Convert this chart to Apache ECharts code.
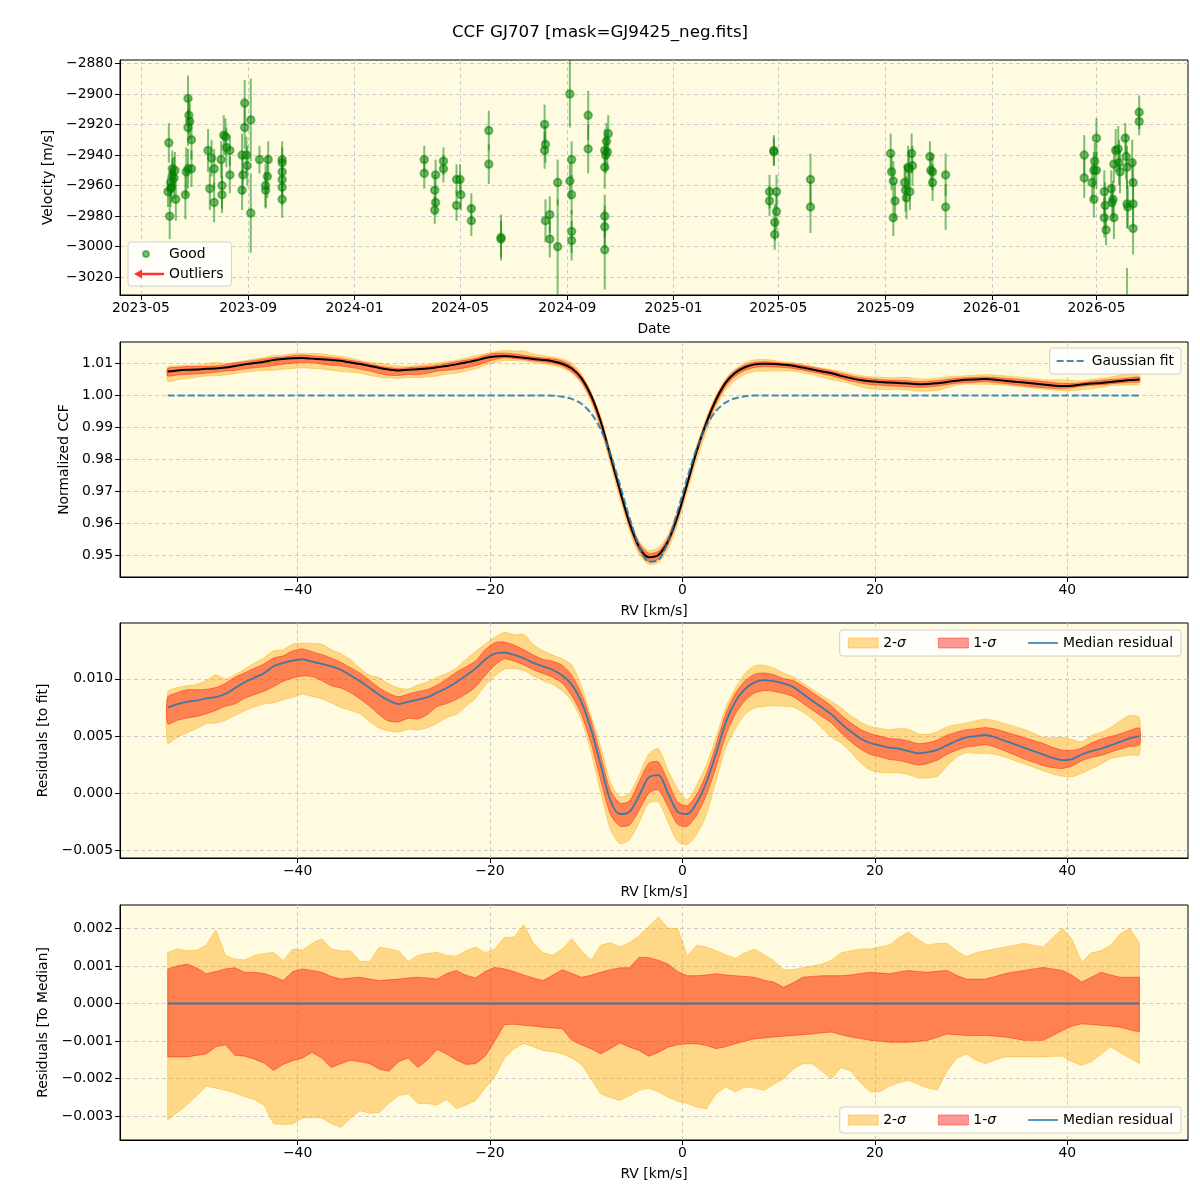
<!DOCTYPE html>
<html>
<head>
<meta charset="utf-8">
<title>CCF GJ707</title>
<script src="https://cdn.jsdelivr.net/npm/echarts@6/dist/echarts.min.js"></script>
<style>html,body{margin:0;background:#fff;}</style>
</head>
<body>
<div id="main" style="width:1200px;height:1200px;"></div>
<script type="text/javascript">
// ---- panel 1: RV time series ----
var obsDate = ['2023-06-02','2023-06-03','2023-06-01','2023-06-04','2023-06-06','2023-06-06','2023-06-08','2023-06-09','2023-06-10','2023-06-04','2023-06-05',
  '2023-06-24','2023-06-25','2023-06-24','2023-06-26','2023-06-28','2023-06-21','2023-06-22','2023-06-24','2023-06-28',
  '2023-07-17','2023-07-19','2023-07-21','2023-07-24','2023-07-24','2023-08-01','2023-08-02','2023-08-02','2023-08-04','2023-08-06','2023-08-07','2023-08-11','2023-08-11',
  '2023-08-28','2023-08-28','2023-08-25','2023-08-26','2023-08-25','2023-08-30','2023-08-31','2023-09-04','2023-09-04',
  '2023-09-14','2023-09-21','2023-09-21','2023-09-23','2023-09-24',
  '2023-10-10','2023-10-10','2023-10-10','2023-10-10','2023-10-10','2023-10-10',
  '2024-03-21','2024-03-21','2024-04-03','2024-04-02','2024-04-03','2024-04-02','2024-04-12','2024-04-12',
  '2024-04-27','2024-05-01','2024-05-02','2024-04-27','2024-05-14','2024-05-14','2024-06-03','2024-06-03','2024-06-17','2024-06-17',
  '2024-08-06','2024-08-07','2024-08-06','2024-08-07','2024-08-12','2024-08-12','2024-08-21','2024-08-21',
  '2024-09-04','2024-09-06','2024-09-04','2024-09-06','2024-09-06','2024-09-06','2024-09-25','2024-09-25',
  '2024-10-18','2024-10-16','2024-10-14','2024-10-17','2024-10-15','2024-10-14','2024-10-14','2024-10-14','2024-10-14',
  '2025-04-26','2025-04-26','2025-04-21','2025-04-21','2025-04-29','2025-04-29','2025-04-27','2025-04-27','2025-06-07','2025-06-07',
  '2025-09-07','2025-09-08','2025-09-10','2025-09-12','2025-09-10','2025-09-23','2025-09-24','2025-09-25','2025-09-27','2025-09-29','2025-10-01','2025-10-02','2025-09-28',
  '2025-10-22','2025-10-23','2025-10-25','2025-10-25','2025-11-09','2025-11-09',
  '2026-04-17','2026-04-17','2026-04-26','2026-04-28','2026-04-29','2026-05-01','2026-05-01','2026-04-28',
  '2026-05-10','2026-05-11','2026-05-10','2026-05-12','2026-05-18','2026-05-19','2026-05-20','2026-05-21','2026-05-21',
  '2026-05-23','2026-05-26','2026-05-27','2026-05-28','2026-06-03','2026-06-04','2026-06-05','2026-06-05','2026-06-06',
  '2026-06-11','2026-06-12','2026-06-12','2026-06-12','2026-06-19','2026-06-19','2026-06-05'];
var obsVel = [-2932,-2980,-2964,-2962,-2949,-2953,-2955,-2950,-2969,-2958,-2961,
  -2903,-2914,-2922,-2918,-2930,-2966,-2951,-2949,-2949,
  -2937,-2962,-2942,-2949,-2971,-2943,-2960,-2966,-2927,-2928,-2935,-2937,-2953,
  -2906,-2922,-2940,-2953,-2963,-2940,-2947,-2917,-2978,
  -2943,-2960,-2963,-2954,-2943,
  -2943,-2945,-2951,-2956,-2961,-2969,
  -2943,-2952,-2953,-2963,-2971,-2976,-2944,-2949,
  -2956,-2956,-2966,-2973,-2975,-2983,-2924,-2946,-2994,-2995,
  -2920,-2933,-2937,-2983,-2979,-2995,-2958,-3000,
  -2900,-2943,-2957,-2966,-2990,-2996,-2914,-2936,
  -2926,-2931,-2937,-2938,-2940,-2948,-2980,-2987,-3002,
  -2937,-2938,-2964,-2970,-2964,-2977,-2984,-2992,-2956,-2974,
  -2939,-2951,-2957,-2970,-2981,-2958,-2963,-2968,-2948,-2964,-2939,-2947,-2949,
  -2941,-2950,-2951,-2958,-2953,-2974,
  -2940,-2955,-2958,-2969,-2944,-2929,-2950,-2950,
  -2964,-2973,-2981,-2989,-2962,-2971,-2969,-2981,-2946,
  -2937,-2936,-2945,-2951,-2929,-2941,-2948,-2972,-2974,
  -2945,-2958,-2972,-2988,-2912,-2918,-3036];
var obsErr = [13,15,10,12,12,11,14,12,14,10,10,
  15,12,12,12,13,16,16,13,12,
  14,14,12,13,13,12,15,12,13,12,13,10,12,
  15,14,14,13,13,12,13,27,26,
  9,14,12,14,12,
  12,10,10,10,12,12,
  9,10,10,10,8,9,9,9,
  10,10,10,10,10,10,13,13,15,12,
  13,12,12,14,12,12,15,31,
  22,12,12,13,14,13,16,16,
  12,12,14,12,12,14,14,14,26,
  10,9,11,10,11,12,12,10,17,17,
  13,12,13,12,12,12,14,14,14,12,13,13,12,
  10,11,12,12,14,15,
  13,13,12,12,12,13,12,12,
  14,15,13,10,12,12,12,14,12,
  14,15,15,14,10,15,14,16,14,
  15,14,16,17,11,9,22];

// ---- panels 2-4: CCF profile, residuals ----
var rv = [-53.5,-52.5,-51.5,-50.5,-49.5,-48.5,-47.5,-46.5,-45.5,-44.5,
  -43.5,-42.5,-41.5,-40.5,-39.5,-38.5,-37.5,-36.5,-35.5,-34.5,
  -33.5,-32.5,-31.5,-30.5,-29.5,-28.5,-27.5,-26.5,-25.5,-24.5,
  -23.5,-22.5,-21.5,-20.5,-19.5,-18.5,-17.5,-16.5,-15.5,-14.5,
  -13.5,-12.5,-11.5,-10.5,-9.5,-8.5,-7.5,-6.5,-5.5,-4.5,
  -3.5,-2.5,-1.5,-0.5,0.5,1.5,2.5,3.5,4.5,5.5,
  6.5,7.5,8.5,9.5,10.5,11.5,12.5,13.5,14.5,15.5,
  16.5,17.5,18.5,19.5,20.5,21.5,22.5,23.5,24.5,25.5,
  26.5,27.5,28.5,29.5,30.5,31.5,32.5,33.5,34.5,35.5,
  36.5,37.5,38.5,39.5,40.5,41.5,42.5,43.5,44.5,45.5,
  46.5,47.5];
var gaussFit = [1,1,1,1,1,1,1,1,1,1,
  1,1,1,1,1,1,1,1,1,1,
  1,1,1,1,1,1,1,1,1,1,
  1,1,1,1,1,1,1,1,1,1,
  0.9999,0.9996,0.9989,0.9974,0.9944,0.9894,0.9818,0.9721,0.9617,0.9528,
  0.9480,0.9485,0.9544,0.9638,0.9742,0.9836,0.9906,0.9952,0.9978,0.9991,
  0.9997,1,1,1,1,1,1,1,1,1,
  1,1,1,1,1,1,1,1,1,1,
  1,1,1,1,1,1,1,1,1,1,
  1,1,1,1,1,1,1,1,1,1,
  1,1];
var medRes = [0.0075,0.0078,0.0080,0.0081,0.0083,0.0084,0.0087,0.0092,0.0097,0.0101,
  0.0105,0.0111,0.0114,0.0116,0.0117,0.0115,0.0113,0.0111,0.0108,0.0103,
  0.0098,0.0092,0.0086,0.0081,0.0078,0.0080,0.0082,0.0084,0.0088,0.0092,
  0.0097,0.0103,0.0109,0.0117,0.0122,0.0123,0.0121,0.0118,0.0114,0.0111,
  0.0108,0.0103,0.0095,0.0080,0.0056,0.0025,-0.0006,-0.0018,-0.0016,-0.0002,
  0.0014,0.0016,0.0000,-0.0016,-0.0018,-0.0008,0.0010,0.0035,0.0062,0.0080,
  0.0091,0.0097,0.0099,0.0098,0.0096,0.0093,0.0087,0.0081,0.0075,0.0069,
  0.0061,0.0054,0.0048,0.0044,0.0042,0.0040,0.0039,0.0037,0.0035,0.0036,
  0.0038,0.0042,0.0046,0.0049,0.0050,0.0051,0.0049,0.0046,0.0043,0.0040,
  0.0037,0.0034,0.0031,0.0029,0.0030,0.0034,0.0037,0.0039,0.0042,0.0045,
  0.0048,0.0050];
// offsets to the median, in units of 1e-3
var hi2 = [1.36,1.45,1.40,1.42,1.55,1.96,1.28,1.18,1.16,1.28,
  1.33,1.36,1.14,1.45,1.42,1.60,1.72,1.45,1.40,1.40,
  1.12,1.12,1.50,1.45,1.40,1.12,1.28,1.33,1.36,1.28,
  1.26,1.40,1.50,1.35,1.45,1.76,1.76,2.10,1.60,1.35,
  1.28,1.45,1.72,1.40,1.15,1.55,1.62,1.50,1.62,1.80,
  2.05,2.30,2.00,2.00,1.27,1.55,1.50,1.40,1.30,1.20,
  1.35,1.45,1.30,1.14,0.90,0.90,0.95,1.00,1.05,1.15,
  1.35,1.40,1.45,1.45,1.50,1.55,1.75,1.90,1.70,1.55,
  1.60,1.60,1.40,1.25,1.35,1.40,1.45,1.50,1.55,1.60,
  1.55,1.50,1.75,2.00,1.70,1.10,1.35,1.40,1.55,1.85,
  2.00,1.60];
var hi1 = [0.92,1.00,1.05,0.95,0.79,0.85,0.92,0.95,0.83,0.83,
  0.80,0.72,0.61,0.85,0.92,0.88,0.83,0.72,0.65,0.68,
  0.70,0.65,0.61,0.63,0.65,0.68,0.70,0.68,0.65,0.80,
  0.88,0.75,0.68,0.85,0.96,0.92,0.85,0.76,0.68,0.61,
  0.75,0.90,0.80,0.70,0.75,0.83,0.90,0.95,0.95,1.23,
  1.22,1.15,1.05,0.85,0.74,0.74,0.76,0.79,0.76,0.74,
  0.72,0.70,0.62,0.57,0.43,0.55,0.70,0.72,0.74,0.74,
  0.74,0.76,0.80,0.83,0.81,0.79,0.84,0.88,0.85,0.83,
  0.86,0.88,0.75,0.65,0.65,0.65,0.72,0.79,0.84,0.88,
  0.92,0.96,0.92,0.88,0.75,0.57,0.70,0.83,0.76,0.70,
  0.70,0.70];
var lo1 = [-1.42,-1.42,-1.42,-1.38,-1.34,-1.15,-1.10,-1.38,-1.40,-1.48,
  -1.58,-1.78,-1.62,-1.52,-1.45,-1.30,-1.45,-1.70,-1.60,-1.51,
  -1.55,-1.60,-1.75,-1.80,-1.55,-1.45,-1.70,-1.50,-1.22,-1.35,
  -1.50,-1.62,-1.60,-1.40,-1.00,-0.56,-0.55,-0.58,-0.60,-0.63,
  -0.65,-0.67,-0.98,-1.10,-1.20,-1.34,-1.20,-1.05,-1.16,-1.25,
  -1.40,-1.30,-1.16,-1.10,-1.07,-1.07,-1.12,-1.20,-1.15,-1.07,
  -1.00,-0.94,-0.92,-0.89,-0.87,-0.85,-0.83,-0.81,-0.78,-0.76,
  -0.83,-0.89,-0.93,-0.98,-1.00,-1.03,-1.03,-1.03,-1.01,-0.98,
  -0.90,-0.81,-0.83,-0.85,-0.85,-0.85,-0.87,-0.89,-0.93,-0.98,
  -0.98,-0.98,-0.85,-0.72,-0.60,-0.54,-0.56,-0.58,-0.60,-0.63,
  -0.70,-0.76];
var lo2 = [-3.10,-2.90,-2.70,-2.45,-2.20,-2.25,-2.31,-2.38,-2.48,-2.55,
  -2.70,-3.20,-3.22,-3.20,-3.05,-3.03,-3.04,-3.20,-3.30,-3.05,
  -2.85,-2.92,-2.90,-2.65,-2.45,-2.40,-2.66,-2.66,-2.70,-2.55,
  -2.80,-2.70,-2.58,-2.25,-1.95,-1.45,-1.20,-1.07,-1.15,-1.25,
  -1.28,-1.34,-1.45,-1.62,-2.00,-2.40,-2.50,-2.58,-2.45,-2.31,
  -2.25,-2.35,-2.49,-2.60,-2.66,-2.75,-2.80,-2.40,-2.22,-2.35,
  -2.22,-2.25,-2.31,-2.15,-2.00,-1.75,-1.60,-1.60,-1.80,-2.00,
  -1.70,-1.80,-2.10,-2.35,-2.35,-2.20,-2.10,-2.05,-2.15,-2.25,
  -2.30,-1.80,-1.45,-1.35,-1.50,-1.60,-1.50,-1.42,-1.42,-1.42,
  -1.42,-1.42,-1.40,-1.40,-1.55,-1.64,-1.55,-1.35,-1.15,-1.30,
  -1.45,-1.60];

// tick labels
var monthTicks = ['2023-05','2023-09','2024-01','2024-05','2024-09','2025-01','2025-05','2025-09','2026-01','2026-05'];
var velTicks = [-3020,-3000,-2980,-2960,-2940,-2920,-2900,-2880];
var ccfTicks = [0.95,0.96,0.97,0.98,0.99,1.00,1.01];
var resTicks = [-0.005,0.000,0.005,0.010];
var medTicks = [-0.003,-0.002,-0.001,0.000,0.001,0.002];
var rvTicks = [-40,-20,0,20,40];

var FONT = 'DejaVu Sans';
var ORANGE = 'rgba(255,165,0,0.4)';
var RED = 'rgba(255,0,0,0.4)';
var BLUE = 'rgba(31,119,180,0.85)';

function ts(s) {
  var p = s.split('-');
  return Date.UTC(+p[0], +p[1] - 1, p.length > 2 ? +p[2] : 1);
}
function num(v, d) {
  var s = Math.abs(v).toFixed(d);
  return (v < 0 && Number(s) !== 0 ? '\u2212' : '') + s;
}

var myChart = echarts.init(document.getElementById('main'), null, {renderer: 'canvas'});

var ccf = rv.map(function (x, i) { return gaussFit[i] + medRes[i]; });

var grids = [60, 342, 623, 905].map(function (t) {
  return {left: 120, top: t, width: 1068, height: 235, show: true, backgroundColor: '#fefbe1',
    borderColor: '#000', borderWidth: 1, containLabel: false};
});

var splitLine = {show: true, lineStyle: {color: '#cbcbcb', type: [4, 3], width: 1}};
var tick = {show: true, inside: false, length: 5, lineStyle: {color: '#000', width: 1}};
var axisLine = {show: true, onZero: false, lineStyle: {color: '#000', width: 1}};
var nameStyle = {fontFamily: FONT, fontSize: 13.9, color: '#000'};

function yAxis(gi, min, max, ticks, dec, name, gap, split) {
  return {
    type: 'value', gridIndex: gi, min: min, max: max, splitNumber: split,
    name: name, nameLocation: 'middle', nameGap: gap, nameTextStyle: nameStyle,
    axisLine: axisLine, axisTick: Object.assign({customValues: ticks}, tick),
    axisLabel: {customValues: ticks, margin: 7, fontFamily: FONT, fontSize: 13.9, color: '#000',
      formatter: function (v) { return num(v, dec); }},
    splitLine: splitLine
  };
}
function rvAxis(gi) {
  return {
    type: 'value', gridIndex: gi, min: -58.46, max: 52.55, splitNumber: 5,
    name: 'RV [km/s]', nameLocation: 'middle', nameGap: 27, nameTextStyle: nameStyle,
    axisLine: axisLine, axisTick: Object.assign({customValues: rvTicks}, tick),
    axisLabel: {customValues: rvTicks, margin: 6, fontFamily: FONT, fontSize: 13.9, color: '#000',
      formatter: function (v) { return num(v, 0); }},
    splitLine: splitLine
  };
}

// dates are plotted as plain millisecond numbers on a value axis
var monthTs = monthTicks.map(ts);
var xAxes = [{
  type: 'value', gridIndex: 0, min: ts('2023-04-07'), max: ts('2026-08-14'),
  name: 'Date', nameLocation: 'middle', nameGap: 27, nameTextStyle: nameStyle,
  axisLine: axisLine, axisTick: Object.assign({customValues: monthTs}, tick),
  axisLabel: {customValues: monthTs, margin: 6, fontFamily: FONT, fontSize: 13.9, color: '#000',
    formatter: function (v) {
      var d = new Date(v), m = d.getUTCMonth() + 1;
      return d.getUTCFullYear() + '-' + (m < 10 ? '0' + m : m);
    }},
  splitLine: splitLine
}, rvAxis(1), rvAxis(2), rvAxis(3)];

var yAxes = [
  yAxis(0, -3031.6, -2877.8, velTicks, 0, 'Velocity [m/s]', 62, 7),
  yAxis(1, 0.9432, 1.0167, ccfTicks, 2, 'Normalized CCF', 46, 7),
  yAxis(2, -0.00564, 0.01488, resTicks, 3, 'Residuals [to fit]', 66, 4),
  yAxis(3, -0.00363, 0.00262, medTicks, 3, 'Residuals [To Median]', 66, 6)
];

// band = base + [lo, hi] (offsets in 1e-3), filled as one polygon placed through the axes
function band(gi, name, base, lo, hi, color, smooth) {
  var d = rv.map(function (x, i) { return [x, base[i] + lo[i] * 1e-3, base[i] + hi[i] * 1e-3]; });
  return {
    type: 'custom', name: name, xAxisIndex: gi, yAxisIndex: gi, clip: true, silent: true, z: 2,
    data: d, encode: {x: 0, y: [1, 2]}, itemStyle: {color: color},
    renderItem: function (params, api) {
      if (params.dataIndex !== 0) return;
      var up = [], dn = [];
      for (var i = 0; i < d.length; i++) {
        up.push(api.coord([d[i][0], d[i][2]]));
        dn.unshift(api.coord([d[i][0], d[i][1]]));
      }
      return {type: 'polygon', shape: {points: up.concat(dn), smooth: smooth},
        style: {fill: color, stroke: color, lineWidth: 1}};
    }
  };
}
var zero = rv.map(function () { return 0; });

var series = [
  {
    type: 'custom', name: 'errbar', xAxisIndex: 0, yAxisIndex: 0, clip: true, silent: true,
    data: obsDate.map(function (d, i) { return [ts(d), obsVel[i], obsErr[i]]; }),
    encode: {x: 0, y: 1},
    renderItem: function (params, api) {
      var x = api.value(0), v = api.value(1), e = api.value(2);
      var a = api.coord([x, v - e]), b = api.coord([x, v + e]);
      return {type: 'line', shape: {x1: a[0], y1: a[1], x2: b[0], y2: b[1]},
        style: {stroke: 'rgba(0,128,0,0.5)', lineWidth: 2}};
    }
  },
  {
    type: 'scatter', name: 'Good', xAxisIndex: 0, yAxisIndex: 0, clip: true, silent: true,
    data: obsDate.map(function (d, i) { return [ts(d), obsVel[i]]; }),
    symbolSize: 7.5,
    itemStyle: {color: 'rgba(0,128,0,0.5)', borderColor: 'rgba(0,128,0,0.5)', borderWidth: 2, opacity: 1}
  },
  {type: 'scatter', name: 'Outliers', xAxisIndex: 0, yAxisIndex: 0, data: [], itemStyle: {color: 'red'}},
  band(1, 'p2 2s', ccf, lo2, hi2, ORANGE, 0.25),
  band(1, 'p2 1s', ccf, lo1, hi1, RED, 0.25),
  {
    type: 'line', name: 'CCF', xAxisIndex: 1, yAxisIndex: 1, symbol: 'none', smooth: 0.3, silent: true, z: 3,
    data: rv.map(function (x, i) { return [x, ccf[i]]; }), lineStyle: {color: '#000', width: 2}
  },
  {
    type: 'line', name: 'Gaussian fit', xAxisIndex: 1, yAxisIndex: 1, symbol: 'none', smooth: 0.3, silent: true, z: 4,
    data: rv.map(function (x, i) { return [x, gaussFit[i]]; }),
    itemStyle: {color: BLUE}, lineStyle: {color: BLUE, width: 2, type: [7, 3]}
  },
  band(2, '2-σ', medRes, lo2, hi2, ORANGE, 0.25),
  band(2, '1-σ', medRes, lo1, hi1, RED, 0.25),
  {
    type: 'line', name: 'Median residual', xAxisIndex: 2, yAxisIndex: 2, symbol: 'none', smooth: 0.3, silent: true, z: 3,
    data: rv.map(function (x, i) { return [x, medRes[i]]; }),
    itemStyle: {color: BLUE}, lineStyle: {color: BLUE, width: 1.8}
  },
  band(3, '2-σ', zero, lo2, hi2, ORANGE, 0),
  band(3, '1-σ', zero, lo1, hi1, RED, 0),
  {
    type: 'line', name: 'Median residual', xAxisIndex: 3, yAxisIndex: 3, symbol: 'none', silent: true, z: 3,
    data: [[rv[0], 0], [rv[rv.length - 1], 0]],
    itemStyle: {color: BLUE}, lineStyle: {color: BLUE, width: 1.8}
  }
];

var legendBox = {backgroundColor: 'rgba(255,255,255,0.8)', borderColor: '#d0d0d0', borderWidth: 1,
  borderRadius: 3, selectedMode: false, itemWidth: 30, itemHeight: 10,
  textStyle: {fontFamily: FONT, fontSize: 13.9, color: '#000', rich: {s: {fontFamily: FONT, fontSize: 13.9, fontStyle: 'italic', color: '#000'}}},
  formatter: function (n) { return n.replace('σ', '{s|σ}'); }};
var LINE_ICON = 'path://M0,0M30,10M0,4.1h30v1.8h-30z';
var DASH_ICON = 'path://M0,0M30,10M0,4h7v2h-7zM10,4h7v2h-7zM20,4h7v2h-7z';
var sigmaItems = [
  {name: '2-σ', icon: 'rect', itemStyle: {color: ORANGE, borderColor: ORANGE, borderWidth: 1}},
  {name: '1-σ', icon: 'rect', itemStyle: {color: RED, borderColor: RED, borderWidth: 1}},
  {name: 'Median residual', icon: LINE_ICON, itemStyle: {color: BLUE, borderWidth: 0}}
];

var option = {
  animation: false,
  textStyle: {fontFamily: FONT},
  title: {text: 'CCF GJ707 [mask=GJ9425_neg.fits]', left: 'center', top: 19,
    textStyle: {fontFamily: FONT, fontSize: 16.7, fontWeight: 'normal', color: '#000'}},
  grid: grids,
  xAxis: xAxes,
  yAxis: yAxes,
  legend: [
    Object.assign({}, legendBox, {orient: 'vertical', left: 128, top: 242, padding: [5, 8, 5, 5], itemGap: 6,
      data: [
        {name: 'Good', icon: 'path://M0,0M30,10M9,5a3,3 0 1,0 6,0a3,3 0 1,0 -6,0z'},
        {name: 'Outliers', icon: 'path://M0,5L8,0.5L8,3.8L30,3.8L30,6.2L8,6.2L8,9.5Z', itemStyle: {color: 'red', borderWidth: 0}}
      ]}),
    Object.assign({}, legendBox, {right: 19, top: 348, padding: [6, 7],
      data: [{name: 'Gaussian fit', icon: DASH_ICON, itemStyle: {color: BLUE, borderWidth: 0}}]}),
    Object.assign({}, legendBox, {right: 19, top: 630, padding: [6, 8], itemGap: 32, data: sigmaItems}),
    Object.assign({}, legendBox, {right: 19, top: 1107, padding: [6, 8], itemGap: 32, data: sigmaItems})
  ],
  series: series
};

myChart.setOption(option);
</script>
</body>
</html>
